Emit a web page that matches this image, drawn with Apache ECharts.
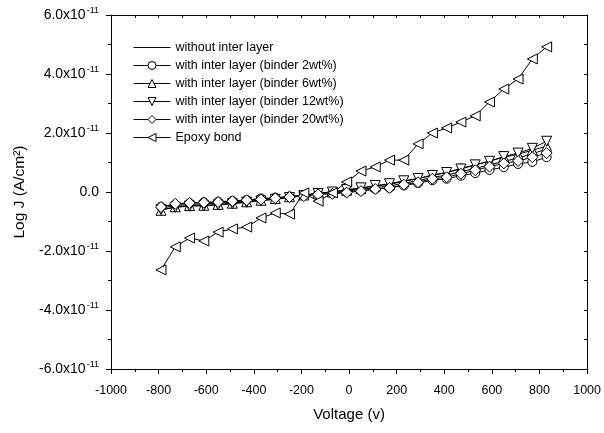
<!DOCTYPE html>
<html><head><meta charset="utf-8">
<script src="https://cdn.jsdelivr.net/npm/echarts@6/dist/echarts.min.js"></script>
<style>html,body{margin:0;padding:0;background:#fff}#c{width:604px;height:433px}</style>
</head><body><div id="c"></div>
<script>
// Voltage (V)
var voltage = [-790,-730,-670,-610,-550,-490,-430,-370,-310,-250,-190,-130,-70,-10,50,110,170,230,290,350,410,470,530,590,650,710,770,830];
// current density, units of 1e-11 A/cm^2
var without = [-0.55,-0.46,-0.42,-0.40,-0.38,-0.34,-0.30,-0.26,-0.21,-0.16,-0.11,-0.05,-0.02,0.03,0.09,0.15,0.20,0.30,0.38,0.50,0.57,0.69,0.80,0.92,1.04,1.15,1.30,1.45];
var binder2 = [-0.50,-0.42,-0.38,-0.35,-0.33,-0.30,-0.27,-0.22,-0.19,-0.15,-0.12,-0.06,-0.04,0.00,0.05,0.10,0.14,0.22,0.30,0.40,0.45,0.55,0.64,0.75,0.84,0.95,1.02,1.18];
var binder6 = [-0.62,-0.50,-0.46,-0.45,-0.42,-0.38,-0.33,-0.28,-0.22,-0.16,-0.10,-0.04,0.00,0.06,0.12,0.20,0.26,0.36,0.45,0.58,0.66,0.80,0.92,1.05,1.18,1.28,1.42,1.55];
var binder12 = [-0.60,-0.52,-0.48,-0.47,-0.44,-0.40,-0.35,-0.30,-0.25,-0.19,-0.12,-0.05,0.00,0.08,0.14,0.22,0.28,0.38,0.46,0.56,0.66,0.78,0.92,1.04,1.20,1.32,1.48,1.72];
var binder20 = [-0.51,-0.40,-0.37,-0.36,-0.34,-0.31,-0.28,-0.25,-0.21,-0.17,-0.14,-0.08,-0.06,-0.02,0.03,0.10,0.14,0.25,0.33,0.45,0.50,0.62,0.74,0.86,0.97,1.05,1.18,1.32];
var epoxy = [-2.64,-1.86,-1.56,-1.66,-1.36,-1.25,-1.19,-0.88,-0.71,-0.75,-0.03,-0.31,-0.03,0.34,0.71,0.85,1.08,1.08,1.63,2.00,2.17,2.37,2.58,3.05,3.49,3.83,4.51,4.92];
var names = ['without inter layer','with inter layer (binder 2wt%)','with inter layer (binder 6wt%)','with inter layer (binder 12wt%)','with inter layer (binder 20wt%)','Epoxy bond'];

function pairs(arr){ return voltage.map(function(v,i){ return [v, arr[i]]; }); }
var FONT = '"Liberation Sans", Arial, sans-serif';
var sym = [
  {s:'none', r:0, size:0},
  {s:'circle', r:0, size:9},
  {s:'triangle', r:0, size:10},
  {s:'triangle', r:180, size:10},
  {s:'diamond', r:0, size:11},
  {s:'triangle', r:90, size:10}
];
var datas = [without, binder2, binder6, binder12, binder20, epoxy];
var series = datas.map(function(d, k){
  return {
    name: names[k], type:'line', data: pairs(d), xAxisIndex:0, yAxisIndex:0,
    symbol: sym[k].s, symbolSize: sym[k].size, symbolRotate: sym[k].r,
    showSymbol: sym[k].s !== 'none',
    lineStyle:{color:'#000', width:1},
    itemStyle:{color:'#fff', borderColor:'#000', borderWidth:1},
    emphasis:{disabled:true}, animation:false, z: 2+k
  };
});

var legendData = names.map(function(n,k){
  if (k === 0) {
    return {name:n, icon:'path://M0,0L38,0L38,1L0,1Z', itemStyle:{color:'#000', borderWidth:0}};
  }
  return {name:n, itemStyle:{color:'#fff', borderColor:'#000', borderWidth:1}};
});

var chart = echarts.init(document.getElementById('c'), null, {renderer:'canvas'});
chart.setOption({
  backgroundColor:'#fff',
  animation:false,
  grid:{left:111, right:15, top:15, bottom:64},
  legend:{
    orient:'vertical', left:128, top:36, itemWidth:37, itemHeight:10, itemGap:5,
    textStyle:{fontFamily:FONT, fontSize:12.5, color:'#000'},
    lineStyle:{width:1, color:'#000'},
    data: legendData
  },
  xAxis:[{
    type:'value', min:-1000, max:1000, interval:200, position:'bottom',
    name:'Voltage (v)', nameLocation:'middle', nameGap:38,
    nameTextStyle:{fontFamily:FONT, fontSize:15, color:'#000'},
    axisLine:{onZero:false, lineStyle:{color:'#000', width:1}},
    axisTick:{inside:false, length:5, lineStyle:{color:'#000'}},
    minorTick:{show:true, splitNumber:2, length:3, lineStyle:{color:'#000'}},
    axisLabel:{fontFamily:FONT, fontSize:12.5, color:'#000', margin:15, formatter:function(v){ return String(v); }},
    splitLine:{show:false}
  },{
    type:'value', min:-1000, max:1000, interval:100, position:'top',
    axisLine:{onZero:false, lineStyle:{color:'#000', width:1}},
    axisTick:{inside:true, length:3, lineStyle:{color:'#000'}},
    axisLabel:{show:false}, splitLine:{show:false}
  }],
  yAxis:[{
    type:'value', min:-6, max:6, interval:2, position:'left',
    name:'Log J (A/cm²)', nameLocation:'middle', nameGap:80, nameRotate:90,
    nameTextStyle:{fontFamily:FONT, fontSize:15.5, color:'#000'},
    axisLine:{onZero:false, lineStyle:{color:'#000', width:1}},
    axisTick:{inside:false, length:5, lineStyle:{color:'#000'}},
    minorTick:{show:true, splitNumber:2, length:3, lineStyle:{color:'#000'}},
    axisLabel:{
      fontFamily:FONT, fontSize:14, color:'#000', margin:12,
      formatter:function(v){
        if (v === 0) return '0.0';
        return '{a|' + v.toFixed(1) + 'x10}{b|-11}';
      },
      rich:{
        a:{fontFamily:FONT, fontSize:14, color:'#000'},
        b:{fontFamily:FONT, fontSize:9, color:'#000', verticalAlign:'top', padding:[0,0,9,1]}
      }
    },
    splitLine:{show:false}
  },{
    type:'value', min:-6, max:6, interval:1, position:'right',
    axisLine:{onZero:false, lineStyle:{color:'#000', width:1}},
    axisTick:{inside:true, length:3, lineStyle:{color:'#000'}},
    axisLabel:{show:false}, splitLine:{show:false}
  }],
  series: series
});
</script></body></html>
